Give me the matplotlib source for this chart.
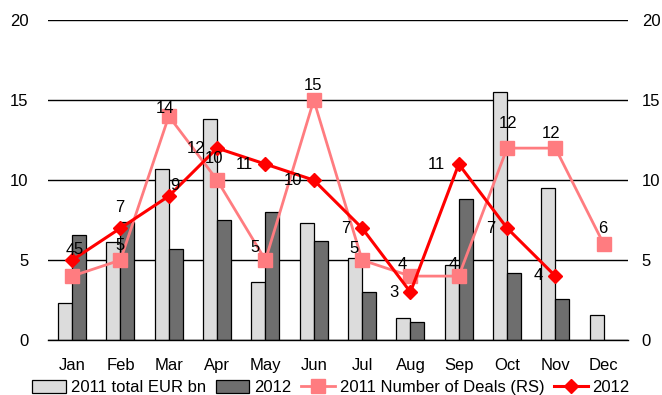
import matplotlib
matplotlib.use("Agg")
import matplotlib.pyplot as plt
from matplotlib.lines import Line2D
from matplotlib.patches import Patch
import numpy as np

plt.rcParams['font.family'] = ['Liberation Sans', 'DejaVu Sans']

months = ["Jan", "Feb", "Mar", "Apr", "May", "Jun", "Jul", "Aug", "Sep", "Oct", "Nov", "Dec"]
volume_2011 = [2.3, 6.15, 10.7, 13.85, 3.65, 7.3, 5.15, 1.4, 4.7, 15.5, 9.5, 1.55]
volume_2012 = [6.6, 7.4, 5.7, 7.5, 8.0, 6.2, 3.0, 1.15, 8.8, 4.2, 2.6, np.nan]
deals_2011 = [4, 5, 14, 10, 5, 15, 5, 4, 4, 12, 12, 6]
deals_2012 = [5, 7, 9, 12, 11, 10, 7, 3, 11, 7, 4]

# label offsets (pixels) for the point annotations
off_2011 = [(-2, 26), (0, 15), (-4, 8), (-3, 22), (-10, 13), (-1, 15),
            (-8, 12), (-8, 12), (-6, 12), (1, 25), (-4, 15), (-1, 16)]
off_2012 = [(6, 11), (-1, 21), (6, 11), (-21, 0), (-21, 0), (-21, 0),
            (-16, 0), (-17, 0), (-22, 0), (-16, 0), (-17, 1)]

LIGHT = "#DCDCDC"
DARK = "#6E6E6E"
PINK = "#FF7C80"
RED = "#FF0000"
FS = 12

fig = plt.figure(figsize=(6.62, 3.95), dpi=100)
ax = fig.add_axes([0.0725, 0.139, 0.876, 0.810])

x = np.arange(len(months))
w = 0.29
ax.bar(x - w / 2, volume_2011, w, color=LIGHT, edgecolor="black", linewidth=0.9, zorder=2)
ax.bar(x + w / 2, volume_2012, w, color=DARK, edgecolor="black", linewidth=0.9, zorder=2)

ax.set_xlim(-0.5, 11.5)
ax.set_ylim(0, 20)
ax.set_yticks([0, 5, 10, 15, 20])
ax.yaxis.grid(True, color="black", linewidth=1.0)
ax.set_axisbelow(True)
for s in ["top", "right", "left"]:
    ax.spines[s].set_visible(False)
ax.spines["bottom"].set_linewidth(1.0)
ax.set_xticks(x)
ax.set_xticklabels(months, fontsize=FS)
ax.tick_params(axis="both", length=0, labelsize=FS)
ax.tick_params(axis="x", pad=13)
ax.tick_params(axis="y", pad=14)

ax2 = ax.twinx()
ax2.set_ylim(0, 20)
ax2.set_yticks([0, 5, 10, 15, 20])
ax2.tick_params(axis="y", length=0, labelsize=FS, pad=10)
for s in ax2.spines.values():
    s.set_visible(False)

xd11 = np.arange(len(deals_2011))
xd12 = np.arange(len(deals_2012))
ax2.plot(xd11, deals_2011, color=PINK, linewidth=2.0, marker="s", markersize=9.5,
         markeredgecolor=PINK, zorder=3)
ax2.plot(xd12, deals_2012, color=RED, linewidth=2.2, marker="D", markersize=7,
         markeredgecolor=RED, zorder=4)

for xi, v, (dx, dy) in zip(xd11, deals_2011, off_2011):
    ax2.annotate(str(v), (xi, v), xytext=(dx, dy), textcoords="offset pixels",
                 ha="center", va="center", fontsize=FS, zorder=5)
for xi, v, (dx, dy) in zip(xd12, deals_2012, off_2012):
    ax2.annotate(str(v), (xi, v), xytext=(dx, dy), textcoords="offset pixels",
                 ha="center", va="center", fontsize=FS, zorder=5)

handles = [
    Patch(facecolor=LIGHT, edgecolor="black", linewidth=0.9),
    Patch(facecolor=DARK, edgecolor="black", linewidth=0.9),
    Line2D([], [], color=PINK, linewidth=2.0, marker="s", markersize=9.5),
    Line2D([], [], color=RED, linewidth=2.2, marker="D", markersize=7),
]
labels = ["2011 total EUR bn", "2012", "2011 Number of Deals (RS)", "2012"]
leg = fig.legend(handles, labels, loc="center", bbox_to_anchor=(0.5, 0.018), ncol=4,
                 frameon=True, fontsize=FS, handlelength=2.0, handleheight=0.75,
                 handletextpad=0.3, columnspacing=0.6, borderpad=0.1)
leg.get_frame().set_edgecolor("white")
leg.get_frame().set_facecolor("white")
leg.get_frame().set_alpha(1)
leg.set_zorder(10)

fig.savefig("out.png", dpi=100)
